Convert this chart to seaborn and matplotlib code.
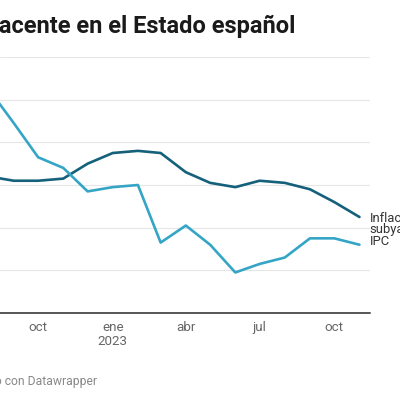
import matplotlib.pyplot as plt
import pandas as pd
import seaborn as sns

sns.set_theme(style="white")
plt.rcParams["font.family"] = ["Roboto", "DejaVu Sans"]

months = pd.date_range("2022-08-01", "2023-11-01", freq="MS")
ipc = [10.5, 8.9, 7.3, 6.8, 5.7, 5.9, 6.0, 3.3, 4.1, 3.2, 1.9, 2.3, 2.6, 3.5, 3.5, 3.2]
subyacente = [6.4, 6.2, 6.2, 6.3, 7.0, 7.5, 7.6, 7.5, 6.6, 6.1, 5.9, 6.2, 6.1, 5.8, 5.2, 4.5]
tick_dates = pd.to_datetime(["2022-10-01", "2023-01-01", "2023-04-01", "2023-07-01", "2023-10-01"])
tick_labels = ["oct", "ene\n2023", "abr", "jul", "oct"]

df = pd.DataFrame({
    "fecha": list(months) * 2,
    "valor": subyacente + ipc,
    "serie": ["Inflación subyacente"] * len(months) + ["IPC"] * len(months),
})
colors = {"Inflación subyacente": "#15607a", "IPC": "#35a5c6"}

fig = plt.figure(figsize=(4, 4), dpi=100)
ax = fig.add_axes([0, 87 / 400, 370 / 400, 256 / 400])

for y in [2, 4, 6, 8, 10, 12]:
    ax.axhline(y, color="#e6e6e6", lw=0.8, zorder=0)

sns.lineplot(data=df, x="fecha", y="valor", hue="serie", palette=colors,
             lw=1.9, legend=False, ax=ax)

ax.axhline(0, color="#555555", lw=1.4, zorder=3, clip_on=False)
ax.set_xlim(pd.Timestamp("2022-08-15"), pd.Timestamp("2023-11-14"))
ax.set_ylim(0, 12)
ax.set_xticks(tick_dates)
ax.set_xticklabels(tick_labels, color="#666666", fontsize=9.6, linespacing=1.1)
ax.tick_params(axis="x", length=0, pad=6)
ax.set_yticks([])
ax.set_xlabel("")
ax.set_ylabel("")
sns.despine(ax=ax, left=True, bottom=True)

ax.annotate("Inflación\nsubyacente", xy=(months[-1], subyacente[-1]),
            xytext=(7.5, -5), textcoords="offset points", va="center",
            fontsize=9.4, color="#333333", linespacing=0.85, annotation_clip=False)
ax.annotate("IPC", xy=(months[-1], ipc[-1]), xytext=(7.5, 2.5),
            textcoords="offset points", va="center",
            fontsize=9.4, color="#333333", annotation_clip=False)

fig.text(295 / 400, 1 - 33 / 400, "Inflación e inflación subyacente en el Estado español",
         ha="right", va="baseline", fontsize=17, fontweight="bold", color="#1a1a1a")
fig.text(97 / 400, 1 - 382 / 400, "Gráfico: Creado con Datawrapper",
         ha="right", va="center", fontsize=8.7, color="#888888")

fig.savefig("out.png", dpi=100)
